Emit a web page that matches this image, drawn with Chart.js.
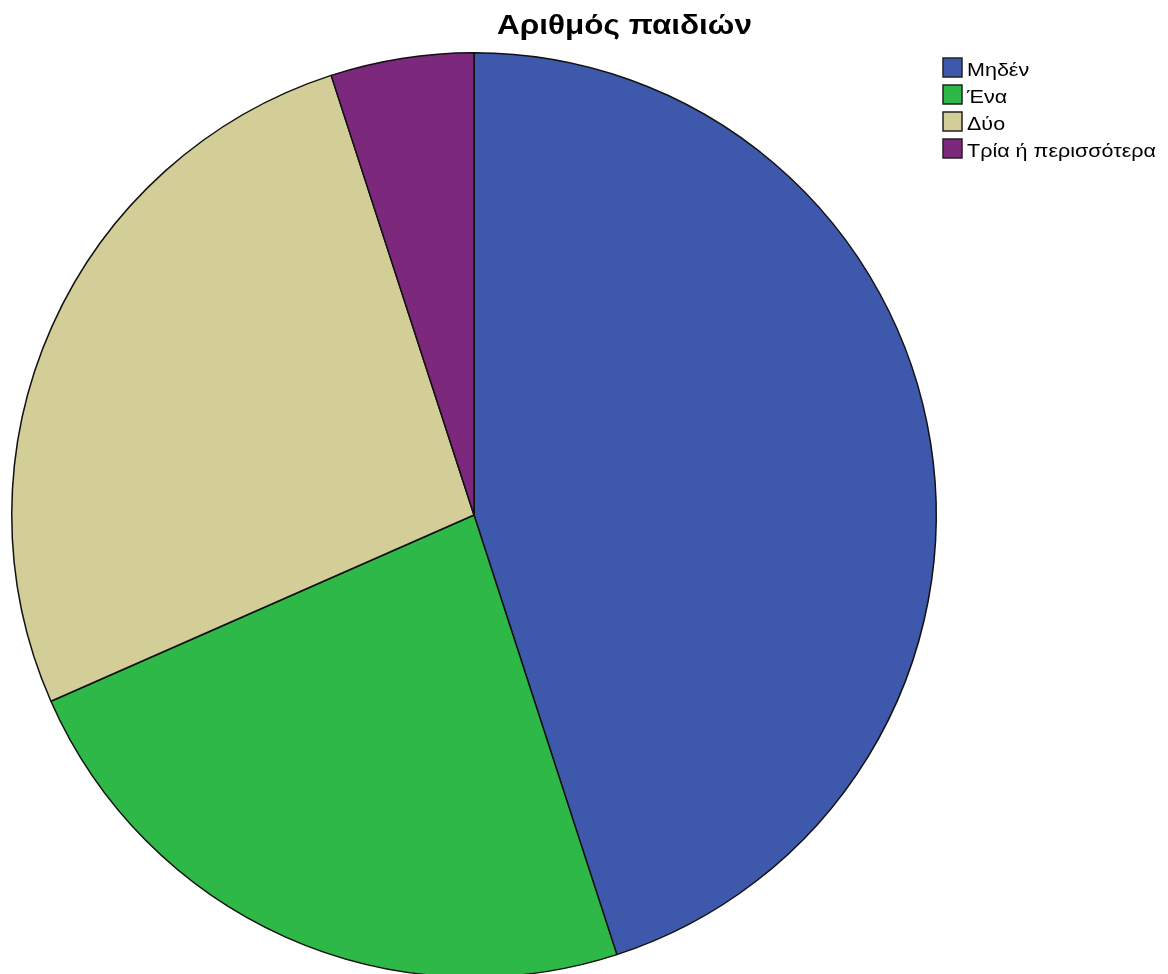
<!DOCTYPE html>
<html lang="el">
<head>
  <meta charset="UTF-8">
  <title>Αριθμός παιδιών</title>
  <script src="https://cdn.jsdelivr.net/npm/chart.js"></script>
  <style>
    html, body { margin: 0; padding: 0; background: #fff; overflow: hidden; }
    .wrap { position: relative; width: 1168px; height: 980px; }
  </style>
</head>
<body>
  <div class="wrap"><canvas id="childrenPie"></canvas></div>
  <script>
    // Ποσοστά ανά κατηγορία (%)
    const categories = ['Μηδέν', 'Ένα', 'Δύο', 'Τρία ή περισσότερα'];
    const percents = [45.0, 23.4, 26.6, 5.0];
    const colors = ['#3E58AC', '#2EB848', '#D3CE97', '#7C287D'];
    const chartTitle = 'Αριθμός παιδιών';

    // κείμενο λίγο "φαρδύτερο" από την Arial: οριζόντια κλίμακα ώστε να πιάνει το πλάτος που θέλουμε
    function wideText(ctx, text, x, y, sx) {
      ctx.save();
      ctx.translate(x, y);
      ctx.scale(sx, 1);
      ctx.fillText(text, 0, 0);
      ctx.restore();
    }

    // τίτλος και υπόμνημα ζωγραφίζονται με το χέρι
    const decorations = {
      id: 'decorations',
      afterDraw(chart) {
        const ctx = chart.ctx;
        ctx.save();
        ctx.fillStyle = '#000';
        ctx.textAlign = 'left';
        ctx.textBaseline = 'alphabetic';

        ctx.font = 'bold 28px "Liberation Sans", Arial, sans-serif';
        const tw = ctx.measureText(chartTitle).width;
        wideText(ctx, chartTitle, 497, 34, 255 / tw);

        ctx.font = '19px "Liberation Sans", Arial, sans-serif';
        const longest = ctx.measureText(categories[3]).width;
        const sx = 189 / longest;
        const ds = chart.data.datasets[0];
        chart.data.labels.forEach((lab, i) => {
          const base = 76 + i * 27;
          ctx.fillStyle = ds.backgroundColor[i];
          ctx.fillRect(943, base - 18, 19, 19);
          ctx.strokeStyle = '#222';
          ctx.lineWidth = 1.5;
          ctx.strokeRect(943, base - 18, 19, 19);
          ctx.fillStyle = '#000';
          wideText(ctx, lab, 967, base, sx);
        });
        ctx.restore();
      }
    };

    new Chart(document.getElementById('childrenPie'), {
      type: 'pie',
      data: {
        labels: categories,
        datasets: [{
          data: percents,
          backgroundColor: colors,
          borderColor: '#111',
          borderWidth: 1.5
        }]
      },
      options: {
        responsive: true,
        maintainAspectRatio: false,
        animation: false,
        layout: { padding: { top: 52, bottom: 2, left: 11, right: 231 } },
        plugins: {
          legend: { display: false },
          title: { display: false },
          tooltip: { enabled: false }
        }
      },
      plugins: [decorations]
    });
  </script>
</body>
</html>
